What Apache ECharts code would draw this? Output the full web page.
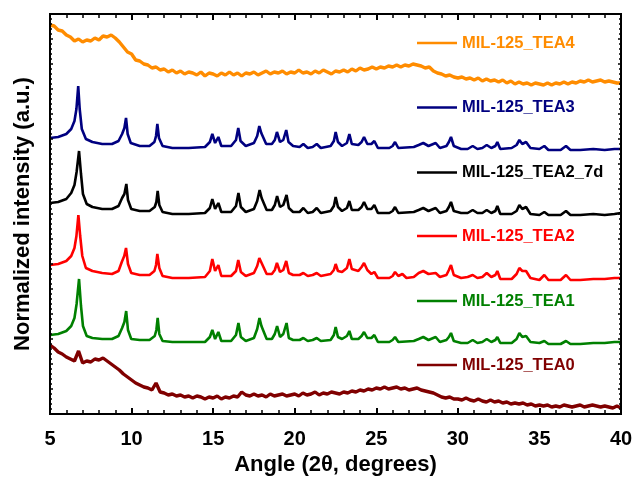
<!DOCTYPE html>
<html>
<head>
<meta charset="utf-8">
<script src="https://cdn.jsdelivr.net/npm/echarts@6/dist/echarts.min.js"></script>
<style>html,body{margin:0;padding:0;background:#fff}#c{width:633px;height:478px}</style>
</head>
<body>
<div id="c"></div>
<script>
// ---- data (intensities already stacked/offset, arbitrary units) ----
const seriesNames = ['MIL-125_TEA4','MIL-125_TEA3','MIL-125_TEA2_7d','MIL-125_TEA2','MIL-125_TEA1','MIL-125_TEA0'];
const xTicks = [5,10,15,20,25,30,35,40];

// sampling angles for the two amorphous patterns
const angleGrid = [
5,5.25,5.5,5.75,6,6.25,6.5,6.75,7,7.25,7.5,7.75,8,8.25,8.5,8.75,9,9.25,9.5,9.75,
10,10.25,10.5,10.75,11,11.25,11.5,11.75,12,12.25,12.5,12.75,13,13.25,13.5,13.75,14,14.25,14.5,14.75,
15,15.25,15.5,15.75,16,16.25,16.5,16.75,17,17.25,17.5,17.75,18,18.25,18.5,18.75,19,19.25,19.5,19.75,
20,20.25,20.5,20.75,21,21.25,21.5,21.75,22,22.25,22.5,22.75,23,23.25,23.5,23.75,24,24.25,24.5,24.75,
25,25.25,25.5,25.75,26,26.25,26.5,26.75,27,27.25,27.5,27.75,28,28.25,28.5,28.75,29,29.25,29.5,29.75,
30,30.25,30.5,30.75,31,31.25,31.5,31.75,32,32.25,32.5,32.75,33,33.25,33.5,33.75,34,34.25,34.5,34.75,
35,35.25,35.5,35.75,36,36.25,36.5,36.75,37,37.25,37.5,37.75,38,38.25,38.5,38.75,39,39.25,39.5,39.75,
40];

const tea4 = [
389,388,384,383,379,377,373,375,372,374,373,376,374,378,377,379,376,372,367,362,
360,354,353,350,349,346,347,344,345,342,344,341,343,340,342,341,339,342,338,341,
340,338,341,339,342,339,341,338,341,340,342,339,341,343,340,342,341,343,340,342,
341,344,341,342,340,343,341,344,342,340,343,342,344,342,345,343,346,344,345,347,
345,347,346,348,347,349,347,349,348,350,349,348,346,347,343,341,340,338,339,337,
336,337,335,336,334,336,333,335,333,334,332,334,331,333,330,332,330,331,329,331,
330,329,331,329,331,330,332,330,332,331,333,332,334,332,333,334,332,333,332,331,
331];

const tea0 = [
69,66,62,60,57,55,53,63,51,53,52,55,54,56,53,50,47,44,40,37,
34,31,29,27,26,24,31,22,21,19,20,18,19,17,18,16,18,17,15,17,
16,18,15,17,16,18,17,22,19,18,20,18,19,17,20,18,19,20,18,19,
20,18,21,19,20,22,19,21,20,22,21,20,22,21,23,22,24,23,25,24,
26,25,27,25,26,27,25,26,24,25,26,24,23,22,21,19,17,16,17,15,
15,14,16,14,13,15,13,12,14,12,13,11,12,10,11,10,11,9,10,8,
9,8,9,7,8,7,9,8,7,8,9,7,8,9,8,7,8,7,6,8,
6];

const tea3 = [[5.0,276],[5.5,277],[6.0,280],[6.3,285],[6.5,293],[6.62,305],[6.73,328],[6.82,305],[6.95,285],[7.2,275],[7.6,272],[8.2,270],[8.8,270],[9.2,273],[9.42,280],[9.56,286],[9.66,296],[9.76,280],[9.95,271],[10.5,268],[11.1,268],[11.4,272],[11.5,278],[11.58,290],[11.68,276],[11.9,268],[12.5,266],[13.5,266],[14.5,267],[14.8,272],[14.95,280],[15.12,271],[15.32,277],[15.5,268],[16.1,268],[16.4,274],[16.54,286],[16.68,273],[17.0,268],[17.5,271],[17.7,278],[17.83,288],[17.95,281],[18.04,279],[18.25,270],[18.6,270],[18.78,274],[18.91,282],[19.1,272],[19.3,274],[19.48,284],[19.62,272],[19.9,268],[20.3,267],[20.53,270],[20.8,266],[21.1,267],[21.35,270],[21.6,266],[22.2,268],[22.4,273],[22.51,282],[22.65,272],[22.9,268],[23.2,271],[23.35,280],[23.5,270],[23.9,269],[24.1,272],[24.25,277],[24.45,270],[24.7,270],[24.88,273],[25.1,266],[25.8,266],[26.0,268],[26.15,272],[26.35,266],[27.3,267],[27.6,269],[27.88,271],[28.2,268],[28.64,271],[28.9,266],[29.3,268],[29.45,272],[29.58,277],[29.75,268],[30.2,265],[30.6,265],[30.91,268],[31.2,265],[31.5,266],[31.77,269],[32.05,266],[32.3,268],[32.42,272],[32.6,265],[33.3,266],[33.6,269],[33.77,274],[33.95,270],[34.18,272],[34.45,266],[35.0,265],[35.3,268],[35.55,264],[36.3,264],[36.63,268],[36.9,264],[37.5,264],[38.3,265],[39.0,264],[39.6,265],[40.0,265]];

const tea2_7d = [[5.0,211],[5.5,212],[6.0,215],[6.3,221],[6.5,229],[6.63,242],[6.78,263],[6.9,240],[7.02,220],[7.25,210],[7.6,207],[8.2,205],[8.8,205],[9.2,208],[9.42,216],[9.56,220],[9.68,230],[9.78,214],[9.98,205],[10.5,203],[11.1,203],[11.42,207],[11.52,212],[11.6,223],[11.7,209],[11.9,202],[12.5,200],[13.5,200],[14.5,201],[14.8,206],[14.95,215],[15.12,205],[15.32,211],[15.5,202],[16.1,202],[16.4,208],[16.55,221],[16.7,207],[17.0,202],[17.5,205],[17.7,213],[17.85,224],[17.97,216],[18.06,214],[18.28,204],[18.6,204],[18.78,209],[18.92,218],[19.1,207],[19.3,209],[19.5,219],[19.64,206],[19.9,202],[20.3,202],[20.53,206],[20.8,201],[21.1,202],[21.35,206],[21.6,201],[22.2,203],[22.4,208],[22.51,217],[22.65,207],[22.9,203],[23.2,206],[23.35,213],[23.5,204],[23.9,204],[24.1,207],[24.25,212],[24.45,205],[24.7,205],[24.88,209],[25.1,201],[25.8,201],[26.0,203],[26.15,207],[26.35,201],[27.3,202],[27.6,204],[27.88,206],[28.2,203],[28.64,206],[28.9,201],[29.3,203],[29.45,207],[29.58,212],[29.75,203],[30.2,201],[30.6,201],[30.91,204],[31.2,201],[31.5,201],[31.77,204],[32.05,201],[32.3,203],[32.42,208],[32.6,200],[33.3,200],[33.6,203],[33.77,209],[33.95,205],[34.18,207],[34.45,200],[35.0,199],[35.3,202],[35.55,199],[36.3,199],[36.63,203],[36.9,199],[37.5,199],[38.3,200],[39.0,199],[39.6,200],[40.0,201]];

const tea2 = [[5.0,149],[5.5,150],[6.0,153],[6.3,158],[6.5,166],[6.62,178],[6.74,199],[6.85,178],[6.98,158],[7.2,146],[7.6,143],[8.2,141],[8.8,140],[9.2,143],[9.4,152],[9.55,158],[9.66,166],[9.78,150],[9.98,141],[10.5,139],[11.1,139],[11.4,143],[11.5,149],[11.58,160],[11.7,146],[11.9,138],[12.5,136],[13.5,136],[14.5,137],[14.8,143],[14.95,155],[15.12,143],[15.32,149],[15.5,138],[16.1,138],[16.4,143],[16.54,154],[16.7,142],[17.0,138],[17.5,141],[17.7,148],[17.83,156],[17.97,151],[18.06,149],[18.28,140],[18.6,140],[18.78,144],[18.91,151],[19.1,142],[19.3,144],[19.48,153],[19.64,141],[19.9,139],[20.3,139],[20.53,141],[20.8,138],[21.1,139],[21.35,141],[21.6,138],[22.2,140],[22.4,144],[22.51,150],[22.65,143],[22.9,142],[23.2,146],[23.35,155],[23.5,145],[23.9,143],[24.1,147],[24.25,151],[24.45,144],[24.7,140],[24.88,142],[25.1,136],[25.8,136],[26.0,138],[26.15,142],[26.35,138],[26.6,140],[26.85,136],[27.3,137],[27.6,141],[27.88,143],[28.2,140],[28.64,141],[28.9,137],[29.3,139],[29.45,144],[29.58,149],[29.75,139],[30.2,136],[30.6,137],[30.91,139],[31.2,136],[31.5,137],[31.77,141],[32.05,137],[32.3,139],[32.42,143],[32.6,135],[33.3,135],[33.6,140],[33.77,146],[33.95,143],[34.18,143],[34.45,136],[35.0,134],[35.3,139],[35.55,134],[36.3,134],[36.63,139],[36.9,134],[37.5,134],[38.3,135],[39.0,135],[39.6,136],[40.0,136]];

const tea1 = [[5.0,79],[5.5,80],[6.0,83],[6.3,88],[6.5,96],[6.63,110],[6.78,135],[6.9,108],[7.02,88],[7.25,78],[7.6,76],[8.2,75],[8.8,75],[9.2,78],[9.42,86],[9.56,92],[9.67,103],[9.78,84],[9.98,75],[10.5,74],[11.1,74],[11.42,78],[11.52,84],[11.6,96],[11.7,80],[11.9,73],[12.5,72],[13.5,72],[14.5,72],[14.8,77],[14.95,84],[15.12,75],[15.32,82],[15.5,73],[16.1,73],[16.4,79],[16.55,91],[16.7,77],[17.0,73],[17.5,76],[17.7,85],[17.84,96],[17.96,88],[18.05,86],[18.28,75],[18.6,75],[18.78,80],[18.92,88],[19.1,77],[19.3,80],[19.5,91],[19.64,76],[19.9,74],[20.3,74],[20.53,76],[20.8,73],[21.1,74],[21.35,76],[21.6,73],[22.2,74],[22.4,79],[22.51,87],[22.65,77],[22.9,75],[23.2,78],[23.35,83],[23.5,75],[23.9,75],[24.1,78],[24.25,82],[24.45,76],[24.7,76],[24.88,79],[25.1,72],[25.8,72],[26.0,74],[26.15,77],[26.35,72],[27.3,73],[27.6,75],[27.88,77],[28.2,74],[28.64,77],[28.9,72],[29.3,74],[29.45,77],[29.58,81],[29.75,73],[30.2,71],[30.6,71],[30.91,74],[31.2,71],[31.5,72],[31.77,75],[32.05,72],[32.3,74],[32.42,77],[32.6,71],[33.3,71],[33.6,75],[33.77,81],[33.95,77],[34.18,78],[34.45,72],[35.0,71],[35.3,73],[35.55,70],[36.3,70],[36.63,73],[36.9,70],[37.5,70],[38.3,71],[39.0,71],[39.6,72],[40.0,72]];

// ---- presentation ----
const colors = ['#FF8C00','#000080','#000000','#FF0000','#008000','#800000'];
const FONT = '"Liberation Sans", Arial, sans-serif';
const zipGrid = ys => angleGrid.map((a, i) => [a, ys[i]]);
const dataSets = [zipGrid(tea4), tea3, tea2_7d, tea2, tea1, zipGrid(tea0)];
const widths = [3.4, 2.6, 2.6, 2.6, 2.6, 3.4];
const legendTops = [34.5, 99, 164, 227.5, 292.5, 356.5];
const GRID = {left: 50, right: 12, top: 14, bottom: 64};
const W = 633, H = 478;

function xAxisOpt(pos, extra) {
  return Object.assign({
    type: 'value', min: 5, max: 40, interval: 5, position: pos, z: 10,
    axisLine: {show: true, onZero: false, lineStyle: {color: '#000', width: 2}},
    axisTick: {show: true, inside: true, length: 6, lineStyle: {color: '#000', width: 2}},
    minorTick: {show: true, splitNumber: 5, length: 4, lineStyle: {color: '#000', width: 1.5}},
    axisLabel: {show: false},
    splitLine: {show: false}, minorSplitLine: {show: false}
  }, extra || {});
}
function yAxisOpt(pos, extra) {
  return Object.assign({
    type: 'value', min: 0, max: 400, interval: 25, position: pos, z: 10,
    axisLine: {show: true, onZero: false, lineStyle: {color: '#000', width: 2}},
    axisTick: {show: true, inside: true, length: 3, lineStyle: {color: '#000', width: 1.5}},
    minorTick: {show: true, splitNumber: 5, length: 2, lineStyle: {color: '#000', width: 1.5}},
    axisLabel: {show: false},
    splitLine: {show: false}, minorSplitLine: {show: false}
  }, extra || {});
}

const chart = echarts.init(document.getElementById('c'));
chart.setOption({
  animation: false,
  backgroundColor: '#fff',
  grid: Object.assign({outerBoundsMode: 'none'}, GRID),
  // plot frame drawn on top, matching the grid rectangle
  graphic: [{
    type: 'rect', z: 100, silent: true,
    shape: {x: GRID.left, y: GRID.top, width: W - GRID.left - GRID.right, height: H - GRID.top - GRID.bottom},
    style: {fill: 'none', stroke: '#000', lineWidth: 2}
  }],
  legend: seriesNames.map((n, i) => ({
    left: 417, top: legendTops[i], orient: 'vertical', padding: 0,
    icon: 'rect', itemWidth: 40, itemHeight: 2.5, itemGap: 5, selectedMode: false,
    data: [{name: n, textStyle: {color: colors[i]}}],
    textStyle: {fontFamily: FONT, fontWeight: 'bold', fontSize: 16.5, color: colors[i]}
  })),
  xAxis: [xAxisOpt('bottom', {
    name: 'Angle (2θ, degrees)', nameLocation: 'middle', nameGap: 40,
    nameTextStyle: {fontFamily: FONT, fontWeight: 'bold', fontSize: 22, color: '#000'},
    axisLabel: {show: true, margin: 15, fontFamily: FONT, fontWeight: 'bold', fontSize: 20, color: '#000',
      formatter: v => xTicks.includes(v) ? String(v) : ''}
  }), xAxisOpt('top')],
  yAxis: [yAxisOpt('left', {
    name: 'Normalized intensity (a.u.)', nameLocation: 'middle', nameGap: 16,
    nameTextStyle: {fontFamily: FONT, fontWeight: 'bold', fontSize: 22, color: '#000'}
  }), yAxisOpt('right')],
  series: seriesNames.map((n, i) => ({
    name: n, type: 'line', xAxisIndex: 0, yAxisIndex: 0,
    data: dataSets[i], symbol: 'none', showSymbol: false, smooth: false,
    lineStyle: {color: colors[i], width: widths[i]}, itemStyle: {color: colors[i]}
  }))
});
</script>
</body>
</html>
